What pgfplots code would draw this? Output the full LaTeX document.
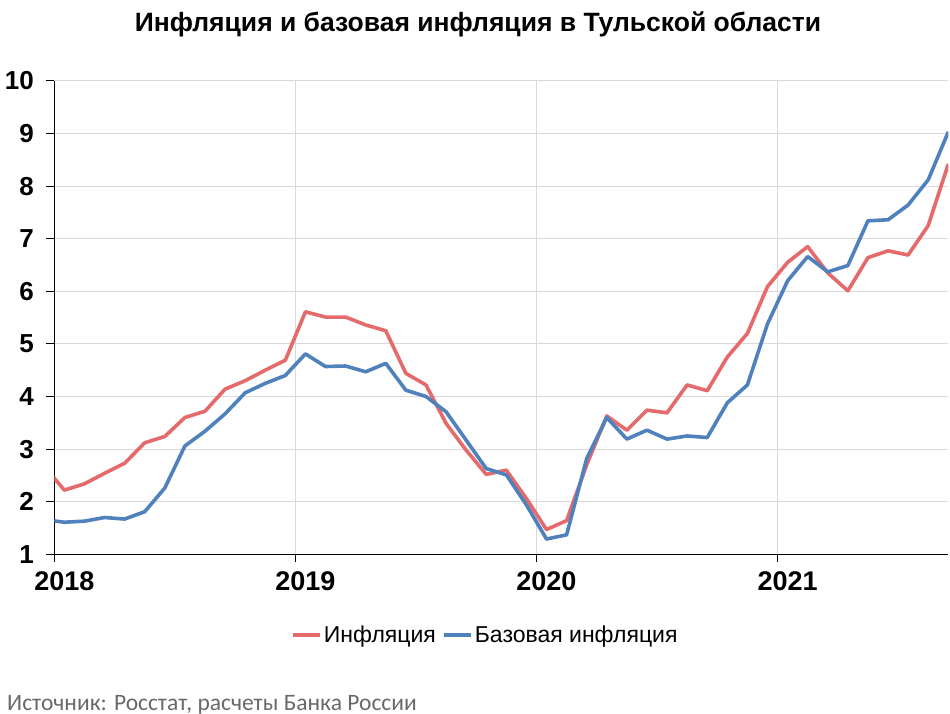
\documentclass[border=0pt]{standalone}
\usepackage{pgfplots}
\pgfplotsset{compat=1.18}
\usepackage{fontspec}
\setmainfont{Liberation Sans}
\newfontfamily\srcfont{Carlito}
\definecolor{infred}{RGB}{229,106,108}
\definecolor{infblue}{RGB}{79,129,189}
\definecolor{gridgray}{RGB}{217,217,217}
\definecolor{srcgray}{RGB}{105,105,105}
\begin{document}
\begin{tikzpicture}[x=1pt,y=1pt]
\useasboundingbox (0,0) rectangle (950,713);
\node[font=\bfseries\fontsize{26.5}{29}\selectfont, anchor=base, inner sep=0pt] at (478,681) {Инфляция и базовая инфляция в Тульской области};
\begin{axis}[
  at={(54.3pt,158.7pt)}, anchor=south west,
  scale only axis, width=894pt, height=473.4pt,
  xmin=0, xmax=44.5, ymin=1, ymax=10,
  axis x line*=bottom, axis y line*=left,
  axis line style={-, black, line width=1pt},
  xtick={0,12,24,36}, xticklabels={2018,2019,2020,2021},
  ytick={1,2,...,10},
  tick align=outside, major tick length=8pt,
  tick style={black, line width=1pt},
  grid=major, major grid style={gridgray, line width=1pt},
  /pgf/number format/assume math mode=true,
  xticklabel style={font=\bfseries\fontsize{27}{30}\selectfont, xshift=10pt, yshift=-6pt},
  yticklabel style={font=\bfseries\fontsize{26}{29}\selectfont, xshift=-9pt},
  legend columns=2,
  legend style={draw=none, fill=none, at={(0.482,-0.1705)}, anchor=center,
    font=\fontsize{23}{26}\selectfont, nodes={inner sep=1.5pt},
    /tikz/every even column/.append style={column sep=5pt}},
  legend image code/.code={\draw[#1, line width=4pt] (0pt,0pt) -- (27pt,0pt);},
  every axis plot/.append style={line width=3.6pt, line join=round},
]
\addplot[infred, no marks] coordinates {
(-0.5,2.67) (0.5,2.22) (1.5,2.34) (2.5,2.54) (3.5,2.73) (4.5,3.12) (5.5,3.24) (6.5,3.60) (7.5,3.72) (8.5,4.14) (9.5,4.30) (10.5,4.50) (11.5,4.69)
(12.5,5.61) (13.5,5.51) (14.5,5.51) (15.5,5.36) (16.5,5.25) (17.5,4.44) (18.5,4.22) (19.5,3.49) (20.5,2.98) (21.5,2.52) (22.5,2.60) (23.5,2.06)
(24.5,1.47) (25.5,1.64) (26.5,2.70) (27.5,3.63) (28.5,3.36) (29.5,3.74) (30.5,3.69) (31.5,4.22) (32.5,4.11) (33.5,4.75) (34.5,5.20) (35.5,6.09)
(36.5,6.55) (37.5,6.85) (38.5,6.35) (39.5,6.01) (40.5,6.64) (41.5,6.77) (42.5,6.69) (43.5,7.25) (44.5,8.42)
};
\addlegendentry{Инфляция}
\addplot[infblue, no marks] coordinates {
(-0.5,1.66) (0.5,1.61) (1.5,1.63) (2.5,1.70) (3.5,1.67) (4.5,1.81) (5.5,2.26) (6.5,3.06) (7.5,3.34) (8.5,3.67) (9.5,4.07) (10.5,4.25) (11.5,4.40)
(12.5,4.81) (13.5,4.57) (14.5,4.58) (15.5,4.47) (16.5,4.63) (17.5,4.12) (18.5,4.00) (19.5,3.71) (20.5,3.17) (21.5,2.63) (22.5,2.51) (23.5,1.94)
(24.5,1.29) (25.5,1.37) (26.5,2.82) (27.5,3.60) (28.5,3.19) (29.5,3.36) (30.5,3.19) (31.5,3.25) (32.5,3.22) (33.5,3.88) (34.5,4.22) (35.5,5.38)
(36.5,6.20) (37.5,6.66) (38.5,6.37) (39.5,6.49) (40.5,7.34) (41.5,7.36) (42.5,7.64) (43.5,8.12) (44.5,9.03)
};
\addlegendentry{Базовая инфляция}
\end{axis}
\node[font=\srcfont\fontsize{23.5}{26}\selectfont, text=srcgray, anchor=base west, inner sep=0pt] at (7,3) {Источник: Росстат, расчеты Банка России};
\end{tikzpicture}
\end{document}
